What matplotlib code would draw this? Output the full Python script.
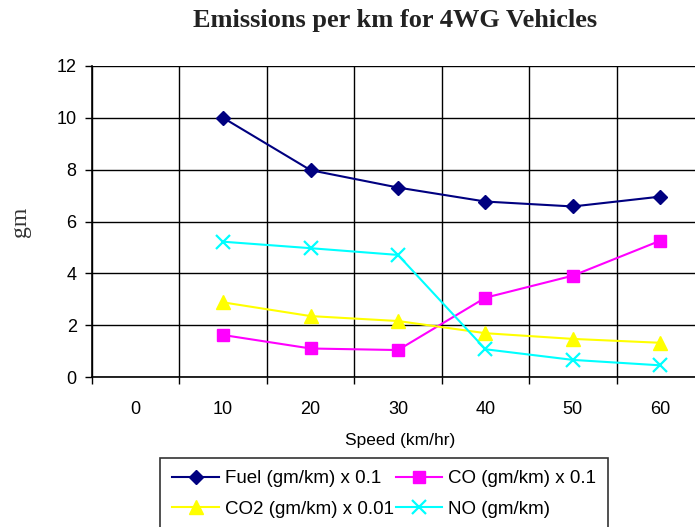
import matplotlib.pyplot as plt
from matplotlib.ticker import FixedLocator, NullFormatter

speeds = ["0", "10", "20", "30", "40", "50", "60"]
xpos = [1, 2, 3, 4, 5, 6]

fuel = [10.0, 7.98, 7.31, 6.77, 6.58, 6.96]
co = [1.62, 1.10, 1.04, 3.06, 3.91, 5.26]
co2 = [2.88, 2.35, 2.16, 1.69, 1.47, 1.32]
no = [5.22, 4.97, 4.71, 1.07, 0.66, 0.45]

plt.rcParams["font.family"] = "Liberation Sans"

fig = plt.figure(figsize=(6.95, 5.27), dpi=100)
ax = fig.add_axes([92 / 695, 1 - 377 / 527, 612 / 695, 311 / 527])

l_fuel, = ax.plot(xpos, fuel, color="#000080", marker="D", markersize=7, lw=1.5,
                  label="Fuel (gm/km) x 0.1", zorder=3)
l_co, = ax.plot(xpos, co, color="#FF00FF", marker="s", markersize=9, lw=1.5,
                label="CO (gm/km) x 0.1", zorder=3)
l_co2, = ax.plot(xpos, co2, color="#FFFF00", marker="^", markersize=10, lw=1.5,
                 label="CO2 (gm/km) x 0.01", zorder=3)
l_no, = ax.plot(xpos, no, color="#00FFFF", marker="x", markersize=10, mew=1.6, lw=1.5,
                label="NO (gm/km)", zorder=3)

ax.set_xlim(-0.5, 6.5)
ax.set_ylim(0, 12)
ax.set_yticks(range(0, 13, 2))

# category boundaries carry the ticks and grid, labels sit at centres
ax.xaxis.set_major_locator(FixedLocator([i - 0.5 for i in range(8)]))
ax.xaxis.set_major_formatter(NullFormatter())
ax.xaxis.set_minor_locator(FixedLocator(range(7)))
ax.set_xticklabels(speeds, minor=True)
ax.tick_params(axis="x", which="minor", length=0, pad=17, labelsize=13)
ax.tick_params(axis="x", which="major", length=5, width=1, direction="out")
ax.tick_params(axis="y", length=5, width=1, direction="out", labelsize=13, pad=6)
ax.grid(True, which="major", color="black", lw=1)
ax.set_axisbelow(True)

for s in ["top", "right"]:
    ax.spines[s].set_visible(False)
ax.spines["left"].set_linewidth(1.2)
ax.spines["bottom"].set_linewidth(1.2)

fig.text(395 / 695, 1 - 20 / 527, "Emissions per km for 4WG Vehicles",
         ha="center", va="center", fontsize=19, fontweight="bold",
         family="Liberation Serif", color="#222222")
fig.text(20 / 695, 1 - 222 / 527, "gm", rotation=90, ha="center", va="center",
         fontsize=17, family="Liberation Serif", color="#333333")
fig.text(400 / 695, 1 - 440 / 527, "Speed (km/hr)", ha="center", va="center",
         fontsize=12.5)

# row-major order: Fuel, CO on top; CO2, NO below
leg = fig.legend([l_fuel, l_co2, l_co, l_no],
                 [l_fuel.get_label(), l_co2.get_label(), l_co.get_label(), l_no.get_label()],
                 loc="upper left", bbox_to_anchor=(160 / 695, 1 - 458 / 527),
                 ncol=2, frameon=True, fancybox=False, handlelength=2.5,
                 handletextpad=0.3, columnspacing=0.1, borderpad=0.65,
                 labelspacing=0.72, prop={"size": 13.5}, borderaxespad=0)
leg.get_frame().set_edgecolor("black")
leg.get_frame().set_linewidth(1.2)

fig.savefig("out.png", dpi=100)
